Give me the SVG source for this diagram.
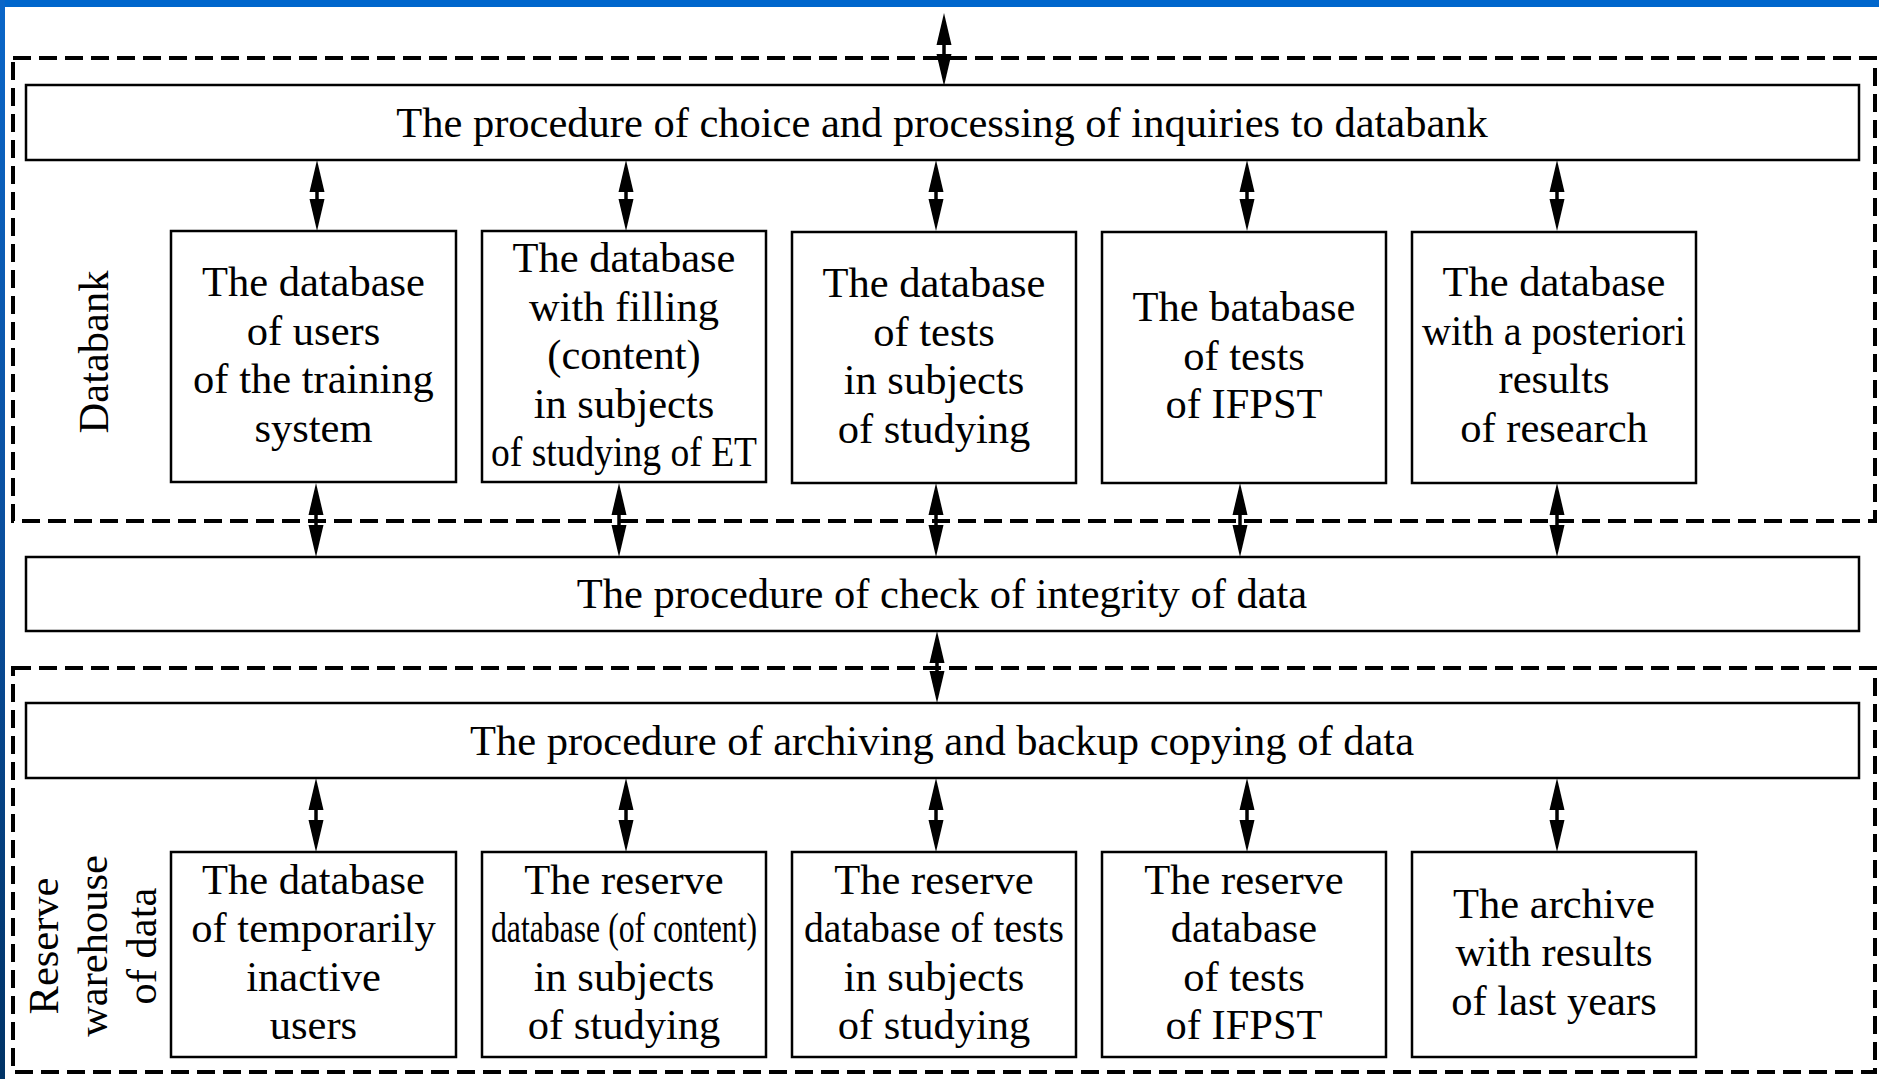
<svg xmlns="http://www.w3.org/2000/svg" width="1879" height="1079" viewBox="0 0 1879 1079">
  <defs>
    <linearGradient id="side" x1="0" y1="0" x2="0" y2="1">
      <stop offset="0" stop-color="#0a66c8"/>
      <stop offset="0.5" stop-color="#0a4f9e"/>
      <stop offset="1" stop-color="#003366"/>
    </linearGradient>
    <marker id="ah" markerUnits="userSpaceOnUse" markerWidth="40" markerHeight="20" refX="22" refY="7.5" orient="auto-start-reverse" overflow="visible">
      <path d="M0,0 L32,7.5 L0,15 Z" fill="#000"/>
    </marker>
    <style>
      .box { fill: #fff; stroke: #000; stroke-width: 2.5; }
      .dash { fill: none; stroke: #000; stroke-width: 4; stroke-dasharray: 18 8; }
      .arr { stroke: #000; stroke-width: 3.5; marker-start: url(#ah); marker-end: url(#ah); }
      text { font-family: "Liberation Serif", "Times New Roman", serif; font-size: 42.5px; fill: #000; text-anchor: middle; }
    </style>
  </defs>

  <rect x="0" y="0" width="1879" height="1079" fill="#fff"/>
  <rect x="0" y="0" width="1879" height="7" fill="#0066cc"/>
  <rect x="0" y="0" width="5" height="1079" fill="url(#side)"/>

  <g id="groups">
    <rect id="databank-frame" class="dash" x="13" y="58" width="1862" height="463"/>
    <rect id="reserve-frame" class="dash" x="13" y="668" width="1862" height="404"/>
    <text transform="translate(108,352) rotate(-90)">Databank</text>
    <text transform="translate(58,946) rotate(-90)"><tspan x="0" y="0">Reserve</tspan><tspan x="0" y="49">warehouse</tspan><tspan x="0" y="98">of data</tspan></text>
  </g>

  <g id="connectors">
    <line class="arr" x1="944" y1="23" x2="944" y2="76"/>
    <line class="arr" x1="317" y1="170" x2="317" y2="221"/>
    <line class="arr" x1="626" y1="170" x2="626" y2="221"/>
    <line class="arr" x1="936" y1="170" x2="936" y2="221"/>
    <line class="arr" x1="1247" y1="170" x2="1247" y2="221"/>
    <line class="arr" x1="1557" y1="170" x2="1557" y2="221"/>
    <line class="arr" x1="316" y1="493" x2="316" y2="547"/>
    <line class="arr" x1="619" y1="493" x2="619" y2="547"/>
    <line class="arr" x1="936" y1="493" x2="936" y2="547"/>
    <line class="arr" x1="1240" y1="493" x2="1240" y2="547"/>
    <line class="arr" x1="1557" y1="493" x2="1557" y2="547"/>
    <line class="arr" x1="937" y1="641" x2="937" y2="693"/>
    <line class="arr" x1="316" y1="788" x2="316" y2="842"/>
    <line class="arr" x1="626" y1="788" x2="626" y2="842"/>
    <line class="arr" x1="936" y1="788" x2="936" y2="842"/>
    <line class="arr" x1="1247" y1="788" x2="1247" y2="842"/>
    <line class="arr" x1="1557" y1="788" x2="1557" y2="842"/>
  </g>

  <g id="proc-choice">
    <rect class="box" x="26" y="85" width="1833" height="75"/>
    <text x="942" y="137">The procedure of choice and processing of inquiries to databank</text>
  </g>
  <g id="proc-check">
    <rect class="box" x="26" y="557" width="1833" height="74"/>
    <text x="942" y="608">The procedure of check of integrity of data</text>
  </g>
  <g id="proc-archive">
    <rect class="box" x="26" y="703" width="1833" height="75"/>
    <text x="942" y="755">The procedure of archiving and backup copying of data</text>
  </g>

  <g id="db-users">
    <rect class="box" x="171" y="231" width="285" height="251"/>
    <text><tspan x="313.5" y="296">The database</tspan><tspan x="313.5" y="344.5">of users</tspan><tspan x="313.5" y="393">of the training</tspan><tspan x="313.5" y="441.5">system</tspan></text>
  </g>
  <g id="db-content">
    <rect class="box" x="482" y="231" width="284" height="251"/>
    <text><tspan x="624" y="272">The database</tspan><tspan x="624" y="320.5">with filling</tspan><tspan x="624" y="369">(content)</tspan><tspan x="624" y="417.5">in subjects</tspan></text>
    <text transform="translate(624,466) scale(0.884,1)">of studying of ET</text>
  </g>
  <g id="db-tests">
    <rect class="box" x="792" y="232" width="284" height="251"/>
    <text><tspan x="934" y="297">The database</tspan><tspan x="934" y="345.5">of tests</tspan><tspan x="934" y="394">in subjects</tspan><tspan x="934" y="442.5">of studying</tspan></text>
  </g>
  <g id="db-ifpst">
    <rect class="box" x="1102" y="232" width="284" height="251"/>
    <text><tspan x="1244" y="321">The batabase</tspan><tspan x="1244" y="369.5">of tests</tspan><tspan x="1244" y="418">of IFPST</tspan></text>
  </g>
  <g id="db-research">
    <rect class="box" x="1412" y="232" width="284" height="251"/>
    <text x="1554" y="296">The database</text>
    <text transform="translate(1554,344.5) scale(0.948,1)">with a posteriori</text>
    <text><tspan x="1554" y="393">results</tspan><tspan x="1554" y="441.5">of research</tspan></text>
  </g>

  <g id="rs-inactive">
    <rect class="box" x="171" y="852" width="285" height="205"/>
    <text><tspan x="313.5" y="893.5">The database</tspan><tspan x="313.5" y="942">of temporarily</tspan><tspan x="313.5" y="990.5">inactive</tspan><tspan x="313.5" y="1039">users</tspan></text>
  </g>
  <g id="rs-content">
    <rect class="box" x="482" y="852" width="284" height="205"/>
    <text x="624" y="893.5">The reserve</text>
    <text transform="translate(624,942) scale(0.747,1)">database (of content)</text>
    <text><tspan x="624" y="990.5">in subjects</tspan><tspan x="624" y="1039">of studying</tspan></text>
  </g>
  <g id="rs-tests">
    <rect class="box" x="792" y="852" width="284" height="205"/>
    <text x="934" y="893.5">The reserve</text>
    <text transform="translate(934,942) scale(0.934,1)">database of tests</text>
    <text><tspan x="934" y="990.5">in subjects</tspan><tspan x="934" y="1039">of studying</tspan></text>
  </g>
  <g id="rs-ifpst">
    <rect class="box" x="1102" y="852" width="284" height="205"/>
    <text><tspan x="1244" y="893.5">The reserve</tspan><tspan x="1244" y="942">database</tspan><tspan x="1244" y="990.5">of tests</tspan><tspan x="1244" y="1039">of IFPST</tspan></text>
  </g>
  <g id="rs-archive">
    <rect class="box" x="1412" y="852" width="284" height="205"/>
    <text><tspan x="1554" y="917.5">The archive</tspan><tspan x="1554" y="966">with results</tspan><tspan x="1554" y="1014.5">of last years</tspan></text>
  </g>
</svg>
